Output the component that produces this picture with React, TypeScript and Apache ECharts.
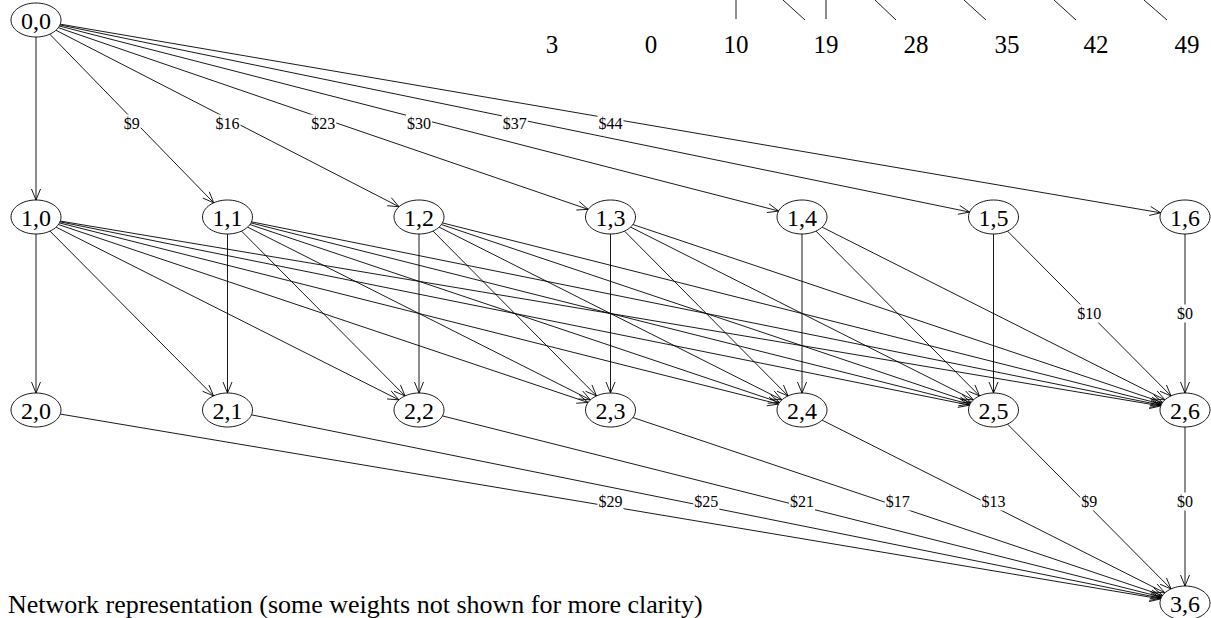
import React, { useEffect, useRef } from "react";
import * as echarts from "echarts";

// ---- data ----
const COLUMNS = [0, 1, 2, 3, 4, 5, 6];
const SOURCE_NODE: [number, number] = [0, 0];
const SINK_NODE: [number, number] = [3, 6];
// weights of edges (0,0) -> (1,k); null = not shown
const WEIGHTS_0_TO_1: (number | null)[] = [null, 9, 16, 23, 30, 37, 44];
// shown weights of edges (1,j) -> (2,k)
const WEIGHTS_1_TO_2: { from: number; to: number; w: number }[] = [
  { from: 5, to: 6, w: 10 },
  { from: 6, to: 6, w: 0 },
];
// weights of edges (2,k) -> (3,6)
const WEIGHTS_2_TO_3: number[] = [29, 25, 21, 17, 13, 9, 0];
// numbers of the figure above (cut off)
const TOP_NUMBERS = ["3", "0", "10", "19", "28", "35", "42", "49"];
const CAPTION = "Network representation (some weights not shown for more clarity)";

// ---- layout ----
const X0 = 36;
const DX = 191.5;
const ROW_Y = [20, 217, 410, 603];
const RX = 25;
const RY = 17;
const LABEL_DY = [5, 0, -5];
const TOP_X = [552, 651, 736, 826, 916, 1007, 1096, 1187];
const TOP_Y = 44;
const TOP_STUBS: [number, number, number, number][] = [
  [736, 0, 736, 19],
  [783, 0, 805, 20],
  [826, 0, 826, 19],
  [875, 0, 896, 20],
  [964, 0, 986, 20],
  [1054, 0, 1076, 20],
  [1144, 0, 1167, 20],
];

const SERIF = "Liberation Serif";

function pos(n: [number, number]): [number, number] {
  return [X0 + DX * n[1], ROW_Y[n[0]]];
}

function clip(c: [number, number], other: [number, number]): [number, number] {
  const dx = other[0] - c[0];
  const dy = other[1] - c[1];
  const t = 1 / Math.sqrt((dx / RX) ** 2 + (dy / RY) ** 2);
  return [c[0] + dx * t, c[1] + dy * t];
}

function edgeElements(a: [number, number], b: [number, number], label: string | null, layer: number) {
  const pa = pos(a);
  const pb = pos(b);
  const s = clip(pa, pb);
  const e = clip(pb, pa);
  const len = Math.hypot(e[0] - s[0], e[1] - s[1]);
  const ux = (e[0] - s[0]) / len;
  const uy = (e[1] - s[1]) / len;
  const L = 11;
  const W = 4.5;
  const bx = e[0] - ux * L;
  const by = e[1] - uy * L;
  const els: any[] = [
    {
      type: "line",
      z: 1,
      shape: { x1: s[0], y1: s[1], x2: e[0], y2: e[1] },
      style: { stroke: "#000", lineWidth: 0.9 },
    },
    {
      type: "polyline",
      z: 1,
      shape: {
        points: [
          [bx - uy * W, by + ux * W],
          [e[0], e[1]],
          [bx + uy * W, by - ux * W],
        ],
      },
      style: { stroke: "#000", lineWidth: 0.9, fill: null },
    },
  ];
  if (label !== null) {
    els.push({
      type: "text",
      z: 2,
      x: (pa[0] + pb[0]) / 2,
      y: (pa[1] + pb[1]) / 2 + LABEL_DY[layer],
      style: {
        text: label,
        fontSize: 16,
        fontFamily: SERIF,
        fill: "#000",
        align: "center",
        verticalAlign: "middle",
        backgroundColor: "#fff",
        padding: [1, 1],
      },
    });
  }
  return els;
}

function nodeElements(n: [number, number]) {
  const [x, y] = pos(n);
  return [
    {
      type: "ellipse",
      z: 3,
      shape: { cx: x, cy: y, rx: RX, ry: RY },
      style: { fill: "#fff", stroke: "#000", lineWidth: 0.9 },
    },
    {
      type: "text",
      z: 4,
      x,
      y: y + 1,
      style: {
        text: `${n[0]},${n[1]}`,
        fontSize: 24,
        fontFamily: SERIF,
        fill: "#000",
        align: "center",
        verticalAlign: "middle",
      },
    },
  ];
}

export default function App() {
  const ref = useRef<HTMLDivElement>(null);
  useEffect(() => {
    if (!ref.current) return;
    const chart = echarts.init(ref.current, null, { renderer: "svg" });
    const els: any[] = [];
    const layer1: [number, number][] = COLUMNS.map((k) => [1, k] as [number, number]);
    const layer2: [number, number][] = COLUMNS.map((k) => [2, k] as [number, number]);

    COLUMNS.forEach((k) => {
      const w = WEIGHTS_0_TO_1[k];
      els.push(...edgeElements(SOURCE_NODE, [1, k], w === null ? null : `$${w}`, 0));
    });
    COLUMNS.forEach((j) => {
      COLUMNS.filter((k) => k >= j).forEach((k) => {
        const lab = WEIGHTS_1_TO_2.find((d) => d.from === j && d.to === k);
        els.push(...edgeElements([1, j], [2, k], lab ? `$${lab.w}` : null, 1));
      });
    });
    COLUMNS.forEach((k) => {
      els.push(...edgeElements([2, k], SINK_NODE, `$${WEIGHTS_2_TO_3[k]}`, 2));
    });
    [SOURCE_NODE, ...layer1, ...layer2, SINK_NODE].forEach((n) => els.push(...nodeElements(n)));

    TOP_STUBS.forEach(([x1, y1, x2, y2]) =>
      els.push({ type: "line", shape: { x1, y1, x2, y2 }, style: { stroke: "#000", lineWidth: 0.9 } })
    );
    TOP_NUMBERS.forEach((t, i) =>
      els.push({
        type: "text",
        x: TOP_X[i],
        y: TOP_Y,
        style: {
          text: t,
          fontSize: 25,
          fontFamily: SERIF,
          fill: "#000",
          align: "center",
          verticalAlign: "middle",
        },
      })
    );
    els.push({
      type: "text",
      x: 8,
      y: 604,
      style: {
        text: CAPTION,
        fontSize: 26,
        fontFamily: SERIF,
        fill: "#000",
        align: "left",
        verticalAlign: "middle",
      },
    });

    chart.setOption({
      animation: false,
      backgroundColor: "#fff",
      graphic: { elements: els },
    });
    return () => chart.dispose();
  }, []);
  return <div ref={ref} style={{ position: "fixed", left: 0, top: 0, width: 1211, height: 618 }} />;
}
